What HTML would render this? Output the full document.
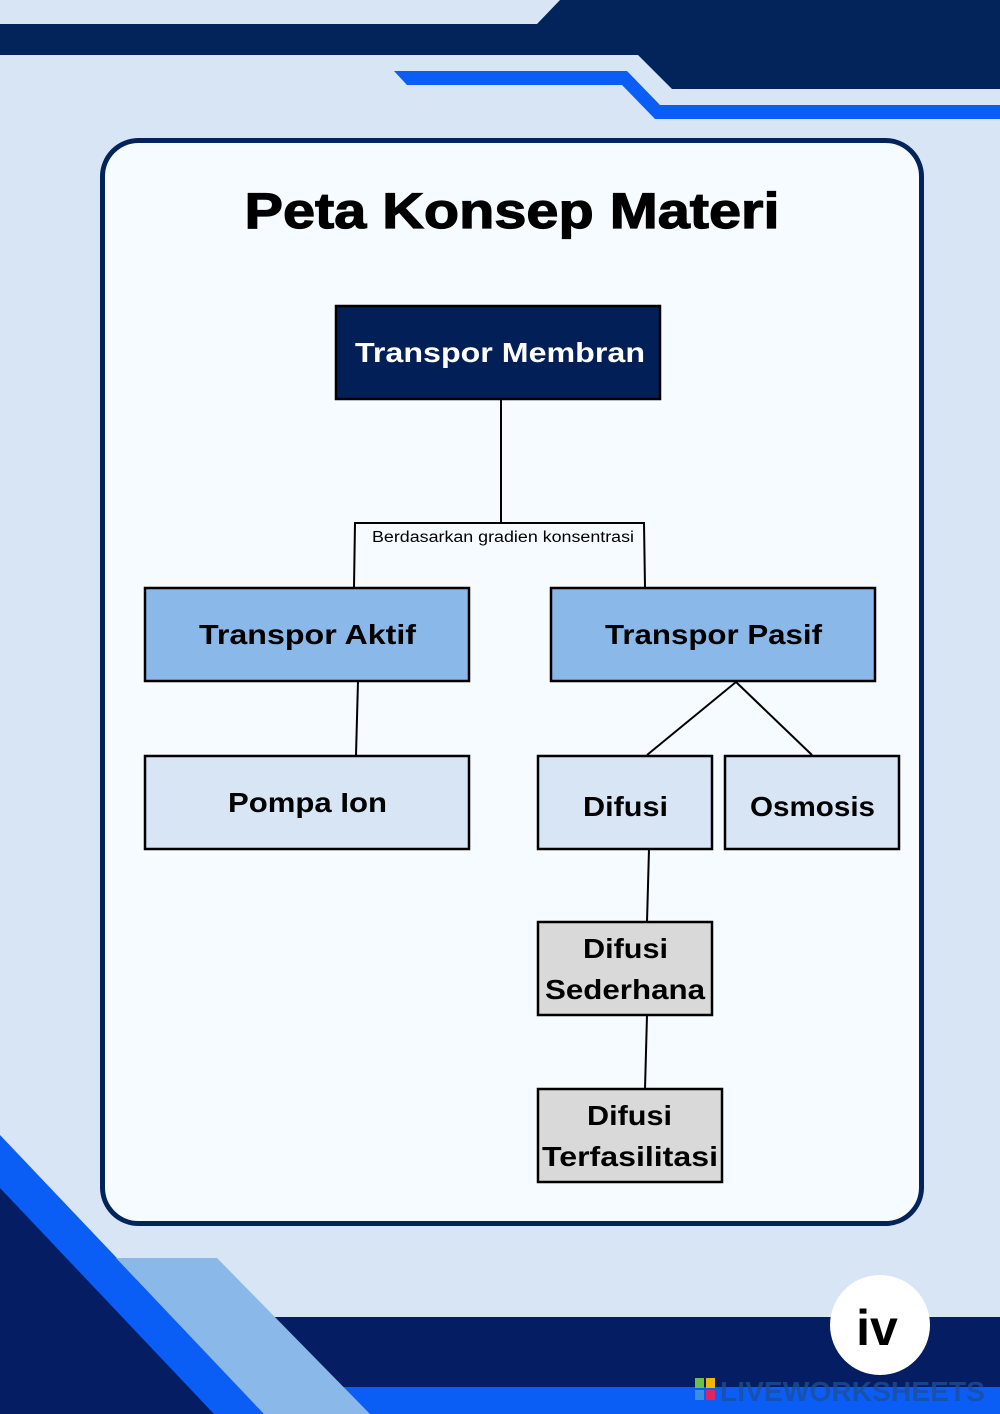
<!DOCTYPE html>
<html><head><meta charset="utf-8"><style>
html,body{margin:0;padding:0;background:#d7e5f5;}
svg{display:block;}
</style></head><body>
<svg width="1000" height="1414" viewBox="0 0 1000 1414" xmlns="http://www.w3.org/2000/svg" font-family="'Liberation Sans', 'DejaVu Sans', sans-serif">
<rect width="1000" height="1414" fill="#d7e5f5"/>
<polygon points="0,24 537,24 560,0 1000,0 1000,89 672,89 638,55 0,55" fill="#02245a"/>
<polygon points="394,71 627,71 660,105 1000,105 1000,119 655,119 622,85 407,85" fill="#0a5ef5"/>
<rect x="0" y="1317" width="1000" height="97" fill="#041d63"/>
<rect x="0" y="1387" width="1000" height="27" fill="#0a5ef5"/>
<polygon points="0,1135 265,1414 0,1414" fill="#0a5ef5"/>
<polygon points="0,1188 214,1414 0,1414" fill="#041d63"/>
<polygon points="116,1258 217,1258 370,1414 264,1414" fill="#8ab8e8"/>
<circle cx="880" cy="1325" r="50" fill="#ffffff"/>
<text x="877" y="1345" font-size="50" font-weight="bold" text-anchor="middle" fill="#000">iv</text>
<text x="720" y="1401" font-size="28" font-weight="bold" fill="#1d4f9a" fill-opacity="0.75" textLength="265" lengthAdjust="spacingAndGlyphs">LIVEWORKSHEETS</text>
<rect x="695" y="1378" width="9" height="10" fill="#6cc04a"/>
<rect x="706" y="1378" width="9" height="10" fill="#f2b705"/>
<rect x="695" y="1390" width="9" height="10" fill="#3b8fe0"/>
<rect x="706" y="1390" width="9" height="10" fill="#e0245e"/>
<rect x="102.5" y="140.5" width="819" height="1083" rx="36" fill="#f5fbff" stroke="#02245a" stroke-width="5"/>
<text x="512" y="228" font-size="50" font-weight="900" text-anchor="middle" fill="#000" textLength="535" lengthAdjust="spacingAndGlyphs" stroke="#000" stroke-width="1.2">Peta Konsep Materi</text>
<g stroke="#000" stroke-width="2" fill="none">
<line x1="501" y1="400" x2="501" y2="523"/>
<polyline points="354,587 355,523 644,523 645,587"/>
<line x1="358" y1="681" x2="356" y2="755"/>
<line x1="736" y1="682" x2="647" y2="755"/>
<line x1="736" y1="682" x2="812" y2="755"/>
<line x1="649" y1="849" x2="647" y2="922"/>
<line x1="647" y1="1015" x2="645" y2="1089"/>
</g>
<rect x="370" y="527" width="268" height="20" fill="#f5fbff"/>
<text x="372" y="542" font-size="15.5" fill="#000" textLength="262" lengthAdjust="spacingAndGlyphs">Berdasarkan gradien konsentrasi</text>
<g stroke="#000" stroke-width="2.5">
<rect x="336" y="306" width="324" height="93" fill="#031f57"/>
<rect x="145" y="588" width="324" height="93" fill="#8ab8e8"/>
<rect x="551" y="588" width="324" height="93" fill="#8ab8e8"/>
<rect x="145" y="756" width="324" height="93" fill="#d7e5f5"/>
<rect x="538" y="756" width="174" height="93" fill="#d7e5f5"/>
<rect x="725" y="756" width="174" height="93" fill="#d7e5f5"/>
<rect x="538" y="922" width="174" height="93" fill="#d9d9d9"/>
<rect x="538" y="1089" width="184" height="93" fill="#d9d9d9"/>
</g>
<g font-size="28" font-weight="bold" fill="#000">
<text x="355" y="362" fill="#fff" textLength="290" lengthAdjust="spacingAndGlyphs">Transpor Membran</text>
<text x="199" y="644" textLength="217" lengthAdjust="spacingAndGlyphs">Transpor Aktif</text>
<text x="605" y="644" textLength="217" lengthAdjust="spacingAndGlyphs">Transpor Pasif</text>
<text x="228" y="812" textLength="159" lengthAdjust="spacingAndGlyphs">Pompa Ion</text>
<text x="583" y="816" textLength="85" lengthAdjust="spacingAndGlyphs">Difusi</text>
<text x="750" y="816" textLength="125" lengthAdjust="spacingAndGlyphs">Osmosis</text>
<text x="583" y="958" textLength="85" lengthAdjust="spacingAndGlyphs">Difusi</text>
<text x="545" y="999" textLength="160" lengthAdjust="spacingAndGlyphs">Sederhana</text>
<text x="587" y="1125" textLength="85" lengthAdjust="spacingAndGlyphs">Difusi</text>
<text x="542" y="1166" textLength="176" lengthAdjust="spacingAndGlyphs">Terfasilitasi</text>
</g>
</svg>
</body></html>
